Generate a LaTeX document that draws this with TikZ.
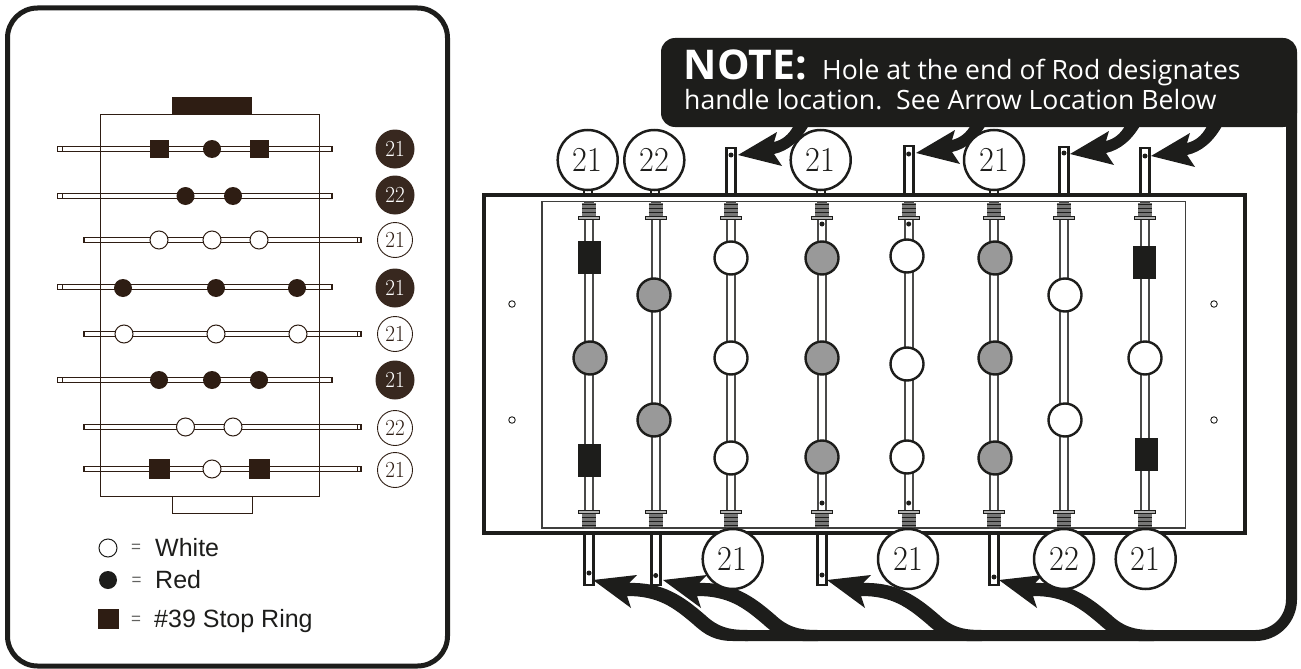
\documentclass[tikz,border=0pt]{standalone}
\usepackage{fontspec}
\usepackage{tikz}
\usetikzlibrary{positioning,calc}
\newfontfamily\notefont{Open Sans}
\newfontfamily\legendfont{Liberation Sans}
\definecolor{inkdark}{HTML}{1D1D1B}
\definecolor{inkbrown}{HTML}{2E1D13}
\definecolor{playergray}{HTML}{999999}
\newcommand{\rodnum}[1]{\scalebox{0.92}[1]{#1}}
\tikzset{
	smallwhite/.style={circle, draw=inkbrown, fill=white, line width=1, minimum size=18, inner sep=0},
	smalldark/.style={circle, fill=inkbrown, minimum size=18, inner sep=0},
	smallstop/.style={rectangle, fill=inkbrown, minimum width=19, minimum height=18, inner sep=0},
	leftbadge/.style={circle, draw=inkbrown, fill=white, line width=0.9, minimum size=35, inner sep=0, text=inkbrown, font=\fontsize{23}{23}\selectfont},
	leftbadgedark/.style={circle, fill=inkbrown!95!white, minimum size=39, inner sep=0, text=white, font=\fontsize{23}{23}\selectfont},
	rightbadge/.style={circle, draw=inkdark, fill=white, line width=2.5, minimum size=60, inner sep=0, text=inkdark, font=\fontsize{35}{35}\selectfont},
	whiteman/.style={circle, draw=inkdark, fill=white, line width=2.4, minimum size=33, inner sep=0},
	grayman/.style={circle, draw=inkdark, fill=playergray, line width=2.4, minimum size=33, inner sep=0},
	stopman/.style={rectangle, draw=inkdark, fill=inkdark, line width=0.5, minimum width=21.5, minimum height=31.5, inner sep=0},
	legendtext/.style={anchor=base west, inner sep=0, text=inkdark, font=\legendfont\fontsize{25}{25}\selectfont},
	legendeq/.style={inner sep=0, text=inkdark!70, font=\legendfont\fontsize{17}{17}\selectfont},
	notetext/.style={anchor=base west, inner sep=0, text=white, font=\notefont\fontsize{26.6}{26.6}\selectfont},
	screwhole/.style={circle, draw=inkdark, fill=white, line width=0.9, minimum size=6.5, inner sep=0},
	rodhole/.style={circle, fill=inkdark, minimum size=5, inner sep=0},
	notearrow/.pic={
		\fill[inkdark] (0,0) -- (39,-23) -- (36,-13) .. controls (44,-15) and (51,-20) .. (56,-30)
			-- (71,-30) .. controls (62,-14) and (50,-4) .. (36,-1) -- (44,11) -- cycle;
	},
	looparrow/.pic={
		\fill[inkdark] (0,0) -- (44,-5) -- (36,3) .. controls (70,2) and (90,16) .. (112,35)
			.. controls (125,47) and (135,50) .. (155,50) -- (155,61) -- (140,61)
			.. controls (122,61) and (112,55) .. (100,44) .. controls (80,27) and (65,16) .. (34,16)
			-- (38,28) -- cycle;
	}
}

\begin{document}
\begin{tikzpicture}[x=1pt, y=-1pt]
	\useasboundingbox (0,0) rectangle (1301,669);
	
	% Left panel
	\draw[inkdark, line width=5, rounded corners=30] (7.5,8) rectangle (447.5,666);
	\fill[inkbrown] (172,97) rectangle (252,114);
	\draw[inkbrown, fill=white, line width=1] (172,496) rectangle (252,513);
	
	% Rods of the small table
	\foreach \y in {149,196,287,380} {
		\draw[inkbrown, fill=white, line width=1.1] (57.5,\y-2.2) rectangle (332,\y+2.2);
		\draw[inkbrown, line width=1] (62.5,\y-2) -- (62.5,\y+2);
	}
	\foreach \y in {240,334,427,469} {
		\draw[inkbrown, fill=white, line width=1.1] (84,\y-2.2) rectangle (361,\y+2.2);
		\draw[inkbrown, line width=1] (357,\y-2) -- (357,\y+2);
	}
	\draw[inkbrown, line width=1] (100,114) rectangle (319.5,496);
	
	% Men of the small table
	\foreach \x/\y/\s [count=\i] in {159/149/smallstop, 212/149/smalldark, 259/149/smallstop,
		185.5/196/smalldark, 233/196/smalldark,
		159/240/smallwhite, 212/240/smallwhite, 259/240/smallwhite,
		123/288/smalldark, 216/288/smalldark, 297/288/smalldark,
		124/334/smallwhite, 216/334/smallwhite, 298/334/smallwhite,
		159/380/smalldark, 212/380/smalldark, 259/380/smalldark,
		185.5/427/smallwhite, 233/427/smallwhite,
		212/469/smallwhite} {
		\node[\s] (man\i) at (\x,\y) {};
	}
	\node[smallstop, minimum width=21, minimum height=20] (stopA) at (159,469) {};
	\node[smallstop, minimum width=21, minimum height=20] (stopB) at (259.5,469) {};
	
	% Counts of the small table
	\node[leftbadgedark] (countA) at (395,149) {\rodnum{21}};
	\node[leftbadgedark] (countB) at (395,195) {\rodnum{22}};
	\node[leftbadge] (countC) at (395,240) {\rodnum{21}};
	\node[leftbadgedark] (countD) at (395,288) {\rodnum{21}};
	\node[leftbadge] (countE) at (395,334) {\rodnum{21}};
	\node[leftbadgedark] (countF) at (395,380) {\rodnum{21}};
	\node[leftbadge] (countG) at (395,428) {\rodnum{22}};
	\node[leftbadge] (countH) at (395,470) {\rodnum{21}};
	
	% Legend
	\node[smallwhite, draw=inkdark, minimum size=18] (keyWhite) at (108,548) {};
	\node[smalldark, fill=inkdark] (keyRed) at (108,580) {};
	\node[smallstop, minimum width=21, minimum height=20] (keyStop) at (108,618.5) {};
	\node[legendeq] (eqWhite) at (136,548) {=};
	\node[legendeq] (eqRed) at (136.5,581) {=};
	\node[legendeq] (eqStop) at (136,620) {=};
	\node[legendtext] (txtWhite) at (155,556.5) {White};
	\node[legendtext] (txtRed) at (155,588.5) {Red};
	\node[legendtext] (txtStop) at (154,627.5) {\#39 Stop Ring};
	
	% Big table
	\draw[inkdark, line width=3.5] (484,195) rectangle (1245,533);
	\draw[inkdark!85, line width=1.4] (542,201.7) rectangle (1185.7,528);
	\node[screwhole] (screwA) at (512,304) {};
	\node[screwhole] (screwB) at (512,420) {};
	\node[screwhole] (screwC) at (1214,304) {};
	\node[screwhole] (screwD) at (1214,420) {};
	
	% Rods with handle ends
	\foreach \x/\y/\h in {731/148/155, 908.7/146/154, 1064/147/153, 1145/148/156} {
		\fill[white] (\x-4.5,\y) rectangle (\x+4.5,193.2);
		\draw[inkdark, line width=2.8] (\x-4.5,194) -- (\x-4.5,\y) -- (\x+4.5,\y) -- (\x+4.5,194);
		\fill[inkdark] (\x,\h) circle (2.5);
	}
	\foreach \x/\h in {589/573, 655.7/575.5, 822/575, 994/577} {
		\fill[white] (\x-4.5,534.8) rectangle (\x+4.5,585);
		\draw[inkdark, line width=2.8] (\x-4.5,534) -- (\x-4.5,585) -- (\x+4.5,585) -- (\x+4.5,534);
		\fill[inkdark] (\x,\h) circle (2.5);
	}
	
	% Stubs under the round labels
	\foreach \x in {588,654.5,821,994} {
		\draw[inkdark, fill=white, line width=2] (\x-4,186) rectangle (\x+4,194);
	}
	
	% Rods and bumpers
	\foreach \x in {589,655.7,731,822,908.7,994,1063.7,1145} {
		\draw[inkdark!80, fill=white, line width=1.6] (\x-4,201.7) rectangle (\x+4,528);
		\foreach \b in {0,1} {
			\begin{scope}[shift={(0,{\b*(729.5)})}, y={(0,{(1-2*\b)*(-1pt)})}]
				\fill[inkdark!60] (\x-7,203) rectangle (\x+7,216);
				\foreach \l in {204,208,212,216} {
					\draw[inkdark, line width=1] (\x-7,\l) -- (\x+7,\l);
				}
				\draw[inkdark, fill=inkdark!35, line width=1] (\x-10.5,216.5) rectangle (\x+10.5,219.5);
			\end{scope}
		}
	}
	
	% Holes near the bumpers
	\foreach \x/\y [count=\i] in {822/224, 908.7/224, 822/503, 908.7/503} {
		\node[rodhole] (hole\i) at (\x,\y) {};
	}
	
	% Men of the big table
	\foreach \x/\y/\s [count=\i] in {590/358/grayman, 654/295/grayman, 654/420/grayman,
		731/258/whiteman, 731/358/whiteman, 731/458/whiteman,
		822/258/grayman, 822/358/grayman, 822/457/grayman,
		907/256/whiteman, 907/364/whiteman, 907/457/whiteman,
		995/258/grayman, 995/358/grayman, 995/458/grayman,
		1065/295/whiteman, 1065/420/whiteman, 1145/358/whiteman,
		589/257/stopman, 589/460/stopman, 1144/262/stopman, 1146/454/stopman} {
		\node[\s] (player\i) at (\x,\y) {};
	}
	
	% Note with its band
	\fill[inkdark, rounded corners=14] (661,38) rectangle (1297,127);
	\draw[inkdark, line width=11, rounded corners=36] (1291.5,60) |- (745,635.5);
	\node[notetext, font=\notefont\bfseries\fontsize{41}{41}\selectfont] (noteHead) at (683.5,79) {NOTE:};
	\node[notetext] (noteA) at (822,79) {Hole at the end of Rod designates};
	\node[notetext] (noteB) at (684,109) {handle location.\ \ See Arrow Location Below};
	
	% Arrows to the handle ends
	\pic at (738,155) {notearrow};
	\pic at (916,153) {notearrow};
	\pic at (1070,154) {notearrow};
	\pic at (1151,156) {notearrow};
	\pic at (593,580) {looparrow};
	\pic at (663,580) {looparrow};
	\pic at (827,580) {looparrow};
	\pic at (999,580) {looparrow};
	
	% Round labels
	\foreach \x/\y/\t [count=\i] in {587.7/160/21, 654.3/160/22, 820.7/160/21, 994/160/21,
		732.7/559/21, 908/559/21, 1064/559/22, 1145.7/559/21} {
		\node[rightbadge] (label\i) at (\x,\y) {\rodnum{\t}};
	}
\end{tikzpicture}
\end{document}
